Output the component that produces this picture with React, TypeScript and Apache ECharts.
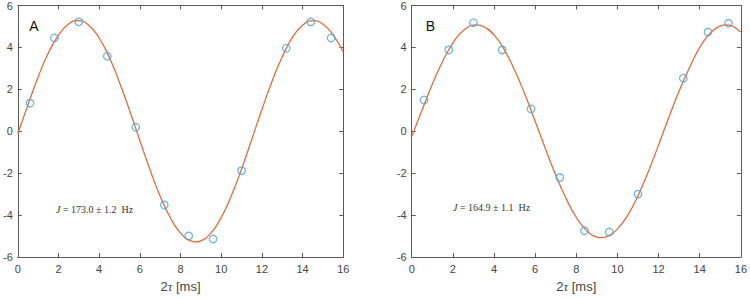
import React, { useEffect, useRef } from "react";
import * as echarts from "echarts";

// Measured sampling times 2τ [ms]
const X_POINTS = [0.6, 1.8, 3.0, 4.4, 5.8, 7.2, 8.4, 9.6, 11.0, 13.2, 14.4, 15.4];
// Panel A measured values
const A_POINTS = [1.34, 4.45, 5.22, 3.58, 0.19, -3.52, -4.99, -5.14, -1.88, 3.96, 5.22, 4.45];
// Panel B measured values
const B_POINTS = [1.49, 3.88, 5.18, 3.88, 1.06, -2.21, -4.75, -4.81, -3.0, 2.53, 4.73, 5.15];

// Fitted curves (samples include the extrema)
const A_FIT_T = [0, 0.5, 1, 1.5, 2, 2.5, 2.95, 3.5, 4, 4.5, 5, 5.5, 6, 6.5, 7, 7.5, 8, 8.5, 8.74, 9, 9.5, 10, 10.5, 11, 11.5, 12, 12.5, 13, 13.5, 14, 14.53, 15, 15.5, 16];
const A_FIT = [-0.12, 1.26, 2.59, 3.73, 4.59, 5.12, 5.28, 5.05, 4.45, 3.52, 2.33, 0.98, -0.44, -1.84, -3.1, -4.13, -4.86, -5.235, -5.28, -5.227, -4.85, -4.11, -3.07, -1.8, -0.39, 1.04, 2.39, 3.55, 4.48, 5.06, 5.28, 5.11, 4.6, 3.78];
const B_FIT_T = [0, 0.5, 1, 1.5, 2, 2.5, 3.15, 3.5, 4, 4.5, 5, 5.5, 6, 6.5, 7, 7.5, 8, 8.5, 9, 9.21, 9.5, 10, 10.5, 11, 11.5, 12, 12.5, 13, 13.5, 14, 14.5, 15, 15.28, 15.5, 16];
const B_FIT = [-0.25, 1.0, 2.24, 3.33, 4.2, 4.8, 5.08, 5.0, 4.6, 3.89, 2.92, 1.76, 0.48, -0.83, -2.09, -3.2, -4.11, -4.74, -5.05, -5.08, -5.02, -4.66, -4.0, -3.07, -1.93, -0.65, 0.67, 1.92, 3.03, 4.0, 4.67, 5.03, 5.08, 5.05, 4.73];

const X_TICKS = { min: 0, max: 16, interval: 2 };
const Y_TICKS = { min: -6, max: 6, interval: 2 };

const PANELS = [
  { letter: "A", points: A_POINTS, fitT: A_FIT_T, fit: A_FIT, j: "173.0", err: "1.2" },
  { letter: "B", points: B_POINTS, fitT: B_FIT_T, fit: B_FIT, j: "164.9", err: "1.1" },
];

const FRAME = "#5a5a5a";
const LABEL = "#454545";
const SANS = "Liberation Sans, Arial, sans-serif";
const SERIF = "Liberation Serif, DejaVu Serif, serif";

const GRIDS = [
  { left: 15.3, top: 3, width: 328, height: 261 },
  { left: 411.7, top: 4.3, width: 331, height: 261.7 },
];

export default function App() {
  const ref = useRef<HTMLDivElement>(null);

  useEffect(() => {
    if (!ref.current) return;
    const chart = echarts.init(ref.current, null, { renderer: "svg" });

    const xAxes: any[] = [];
    const yAxes: any[] = [];
    const series: any[] = [];
    const graphics: any[] = [];

    PANELS.forEach((p, i) => {
      const common = {
        type: "value",
        gridIndex: i,
        splitLine: { show: false },
        axisLine: { show: true, onZero: false, lineStyle: { color: FRAME, width: 1 } },
        axisTick: { show: true, inside: true, length: 4, lineStyle: { color: FRAME, width: 1 } },
      };
      xAxes.push({
        ...common,
        ...X_TICKS,
        position: "bottom",
        axisLabel: { color: LABEL, fontSize: 11, fontFamily: SANS, margin: 6 },
        name: "{n|2}{t|τ}{n| [ms]}",
        nameLocation: "middle",
        nameGap: 23,
        nameTextStyle: {
          rich: {
            n: { fontSize: 13, fontFamily: SANS, color: LABEL },
            t: { fontSize: 13, fontFamily: SERIF, fontStyle: "italic", color: LABEL },
          },
        },
      });
      xAxes.push({ ...common, ...X_TICKS, position: "top", axisLabel: { show: false } });
      yAxes.push({
        ...common,
        ...Y_TICKS,
        position: "left",
        axisLabel: { color: LABEL, fontSize: 11, fontFamily: SANS, margin: 5 },
      });
      yAxes.push({ ...common, ...Y_TICKS, position: "right", axisLabel: { show: false } });

      series.push({
        type: "line",
        xAxisIndex: 2 * i,
        yAxisIndex: 2 * i,
        data: p.fitT.map((t, k) => [t, p.fit[k]]),
        smooth: 0.5,
        showSymbol: false,
        lineStyle: { color: "#e36c3d", width: 1.3 },
        z: 2,
      });
      series.push({
        type: "scatter",
        xAxisIndex: 2 * i,
        yAxisIndex: 2 * i,
        data: X_POINTS.map((t, k) => [t, p.points[k]]),
        symbol: "circle",
        symbolSize: 7.5,
        itemStyle: { color: "rgba(0,0,0,0)", borderColor: "#4aa3df", borderWidth: 1.3 },
        z: 3,
      });

      const g = GRIDS[i];
      graphics.push({
        type: "text",
        left: g.left + 14,
        top: 19,
        style: { text: p.letter, font: `14px ${SANS}`, fill: "#111" },
      });
      graphics.push({
        type: "text",
        left: i === 0 ? 56 : 453,
        top: i === 0 ? 204 : 202,
        style: {
          text: `{it|J} = ${p.j} ± ${p.err}  Hz`,
          font: `10px ${SERIF}`,
          fill: "#333",
          rich: {
            it: { fontStyle: "italic", fontFamily: SERIF, fontSize: 10, fill: "#333" },
          },
        },
      });
    });

    chart.setOption({
      animation: false,
      backgroundColor: "#fff",
      grid: GRIDS.map((g) => ({ ...g, containLabel: false })),
      xAxis: xAxes,
      yAxis: yAxes,
      series,
      graphic: graphics,
    });

    return () => chart.dispose();
  }, []);

  return (
    <div
      ref={ref}
      style={{ position: "fixed", left: 0, top: 0, width: 750, height: 298, background: "#fff" }}
    />
  );
}
